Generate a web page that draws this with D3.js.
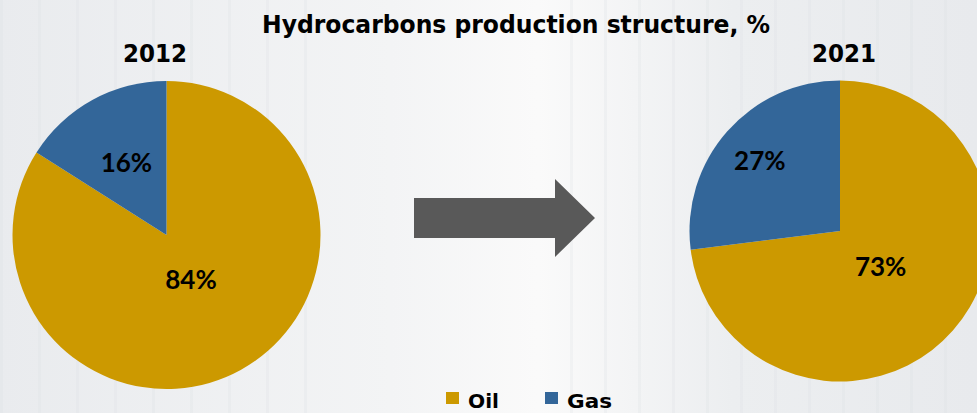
<!doctype html>
<meta charset='utf-8' />
<script src='https://cdn.jsdelivr.net/npm/d3@7/dist/d3.min.js'></script>
<style>
    body { margin: 0; background: #eef0f2; }
    svg { display: block; }
</style>
<svg></svg>
<script>
    var width = 977,
        height = 413

    // data
    var categories = ['Oil', 'Gas']
    var years = ['2012', '2021']
    var share2012 = [84, 16]
    var share2021 = [73, 27]
    var colors = ['#cc9900', '#336699']

    var svg = d3.select('svg')
        .attr('width', width)
        .attr('height', height)

    // faint backdrop, roughly like the photo behind the original
    var defs = svg.append('defs')
    var grad = defs.append('linearGradient').attr('id', 'bg')
        .attr('x1', 0).attr('x2', 1).attr('y1', 0).attr('y2', 0)
    grad.append('stop').attr('offset', '0%').attr('stop-color', '#e9ebee')
    grad.append('stop').attr('offset', '40%').attr('stop-color', '#f3f4f5')
    grad.append('stop').attr('offset', '55%').attr('stop-color', '#fafafa')
    grad.append('stop').attr('offset', '75%').attr('stop-color', '#eceef0')
    grad.append('stop').attr('offset', '100%').attr('stop-color', '#e8eaed')
    svg.append('rect').attr('width', width).attr('height', height).attr('fill', 'url(#bg)')

    var bgCols = d3.range(0, 340, 38).concat(d3.range(570, 977, 34))
    svg.selectAll('.bgline')
        .data(bgCols)
        .enter()
        .append('rect')
        .attr('x', d => d)
        .attr('y', 0)
        .attr('width', 3)
        .attr('height', height)
        .attr('fill', '#dcdfe3')
        .attr('opacity', 0.25)

    // title
    svg.append('text')
        .attr('x', 516)
        .attr('y', 33)
        .attr('text-anchor', 'middle')
        .attr('font-family', 'DejaVu Sans')
        .attr('font-weight', 'bold')
        .attr('font-size', 24)
        .attr('textLength', 508)
        .attr('lengthAdjust', 'spacingAndGlyphs')
        .text('Hydrocarbons production structure, %')

    var pies = [
        { year: years[0], values: share2012, cx: 166.5, cy: 235, r: 154, yearX: 155, labelR: [0.33, 0.54] },
        { year: years[1], values: share2021, cx: 840, cy: 231, r: 150.5, yearX: 844, labelR: [0.36, 0.71] }
    ]

    var pie = d3.pie().sort(null).value(d => d)

    pies.forEach(p => {
        var g = svg.append('g').attr('transform', 'translate(' + p.cx + ',' + p.cy + ')')
        var arcs = pie(p.values)
        var arc = d3.arc().innerRadius(0).outerRadius(p.r)

        g.selectAll('path')
            .data(arcs)
            .enter()
            .append('path')
            .attr('d', arc)
            .attr('fill', (d, i) => colors[i])

        g.selectAll('text')
            .data(arcs)
            .enter()
            .append('text')
            .attr('transform', (d, i) => {
                var lr = p.r * p.labelR[i]
                var c = d3.arc().innerRadius(lr).outerRadius(lr).centroid(d)
                return 'translate(' + c[0] + ',' + c[1] + ')'
            })
            .attr('text-anchor', 'middle')
            .attr('dy', '0.36em')
            .attr('font-family', 'Lato')
            .attr('font-weight', 'bold')
            .attr('font-size', 26)
            .attr('fill', '#000')
            .text(d => d.data + '%')

        svg.append('text')
            .attr('x', p.yearX)
            .attr('y', 62)
            .attr('text-anchor', 'middle')
            .attr('font-family', 'DejaVu Sans')
            .attr('font-weight', 'bold')
            .attr('font-size', 24)
            .attr('textLength', 64)
            .attr('lengthAdjust', 'spacingAndGlyphs')
            .text(p.year)
    })

    // arrow between the pies
    svg.append('path')
        .attr('d', 'M414,198 H555 V179 L595,218 L555,257 V238 H414 Z')
        .attr('fill', '#595959')

    // legend
    var legend = svg.selectAll('.legend')
        .data(categories)
        .enter()
        .append('g')
        .attr('transform', (d, i) => 'translate(' + (446 + i * 99) + ',0)')
    legend.append('rect')
        .attr('x', 0)
        .attr('y', 392)
        .attr('width', 13)
        .attr('height', 12)
        .attr('fill', (d, i) => colors[i])
    legend.append('text')
        .attr('x', 22)
        .attr('y', 408)
        .attr('font-family', 'DejaVu Sans')
        .attr('font-weight', 'bold')
        .attr('font-size', 20)
        .attr('textLength', (d, i) => i ? 45 : 31)
        .attr('lengthAdjust', 'spacingAndGlyphs')
        .text(d => d)
</script>
